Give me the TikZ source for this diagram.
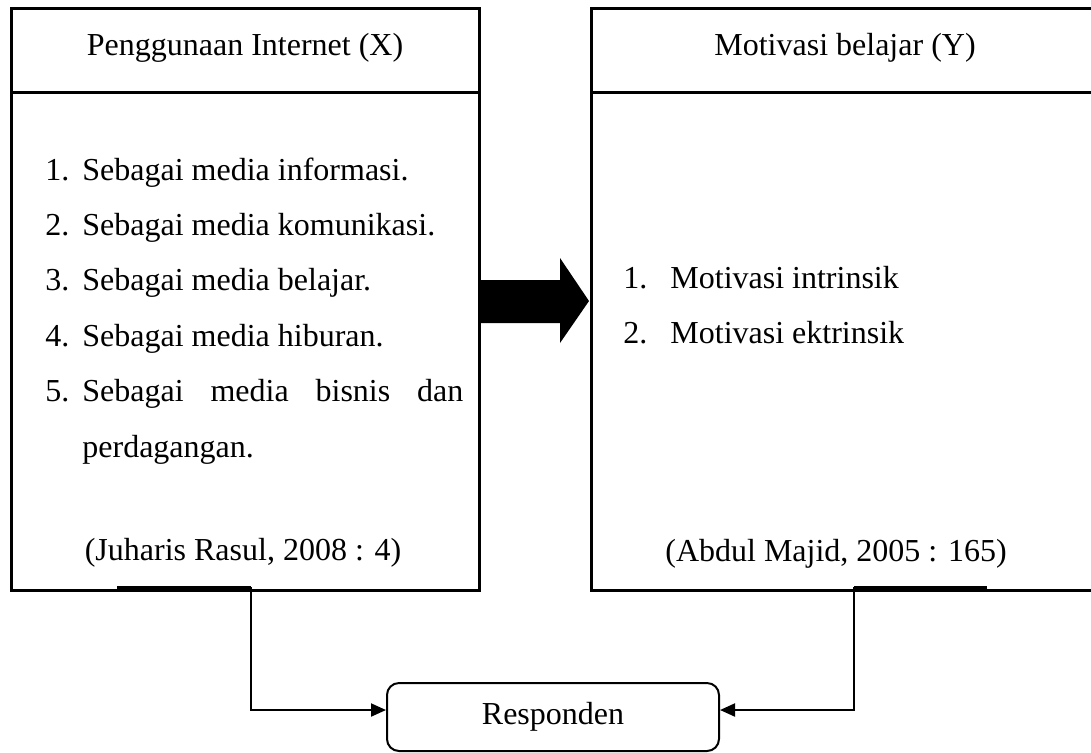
\documentclass[tikz,border=0pt]{standalone}
\usepackage{fontspec}
\setmainfont{Liberation Serif}
\usetikzlibrary{arrows.meta}
\tikzset{
  panel/.style={draw,line width=1.5pt,inner sep=0pt,outer sep=0pt},
  txt/.style={inner sep=0pt,anchor=base west},
  conn/.style={line width=1pt,-{Triangle[length=7.5pt,width=6.5pt]}},
  stub/.style={line width=1.5pt},
}
\begin{document}
\begin{tikzpicture}[x=0.5pt,y=-0.5pt,font=\fontsize{16}{19}\selectfont]
\useasboundingbox (0,0) rectangle (1091,752);
\clip (0,0) rectangle (1091,752);

% variabel X
\node[panel,minimum width=234.25pt,minimum height=290.75pt] (inet) at (245.25,299.25) {};
\draw[line width=1.5pt] (11,92.5) -- (479.5,92.5);
\node[inner sep=0pt,anchor=base] (inethead) at (245,55) {Penggunaan Internet (X)};
\node[txt] (n1) at (45,180) {1.};
\node[txt] (t1) at (82,180) {Sebagai media informasi.};
\node[txt] (n2) at (45,235.4) {2.};
\node[txt] (t2) at (82,235.4) {Sebagai media komunikasi.};
\node[txt] (n3) at (45,290.8) {3.};
\node[txt] (t3) at (82,290.8) {Sebagai media belajar.};
\node[txt] (n4) at (45,346.2) {4.};
\node[txt] (t4) at (82,346.2) {Sebagai media hiburan.};
\node[txt] (n5) at (45,401.6) {5.};
\node[txt] (t5) at (82,401.6) {\makebox[190.5pt][s]{Sebagai media bisnis dan}};
\node[txt] (t5b) at (82,457) {perdagangan.};
\node[inner sep=0pt,anchor=base] (inetsrc) at (243,560) {(Juharis Rasul, 2008 : 4)};

% panah tebal
\fill (481,280) -- (560,280) -- (560,258) -- (589,301) -- (560,343) -- (560,323) -- (481,323) -- cycle;

% variabel Y
\node[panel,minimum width=254.5pt,minimum height=290.75pt] (motiv) at (845.5,299.25) {};
\draw[line width=1.5pt] (591,92.5) -- (1100,92.5);
\node[inner sep=0pt,anchor=base] (motivhead) at (845,55) {Motivasi belajar (Y)};
\node[txt] (m1) at (623,288) {1.};
\node[txt] (s1) at (670,288) {Motivasi intrinsik};
\node[txt] (m2) at (623,343) {2.};
\node[txt] (s2) at (670,343) {Motivasi ektrinsik};
\node[inner sep=0pt,anchor=base] (motivsrc) at (836,561) {(Abdul Majid, 2005 : 165)};

% responden
\node[draw,line width=1pt,rounded corners=6pt,minimum width=166pt,minimum height=34pt,inner sep=0pt] (respon) at (553,717) {Responden};

\coordinate (lstub) at (117,587);
\coordinate (lturn) at (251,587);
\coordinate (rstub) at (987,587);
\coordinate (rturn) at (854,587);
\draw[stub] (lstub) -- (lturn);
\draw[stub] (rstub) -- (rturn);
\draw[conn] (lturn) |- ([yshift=3.5pt]respon.west);
\draw[conn] (rturn) |- ([yshift=3.5pt]respon.east);
\end{tikzpicture}
\end{document}
